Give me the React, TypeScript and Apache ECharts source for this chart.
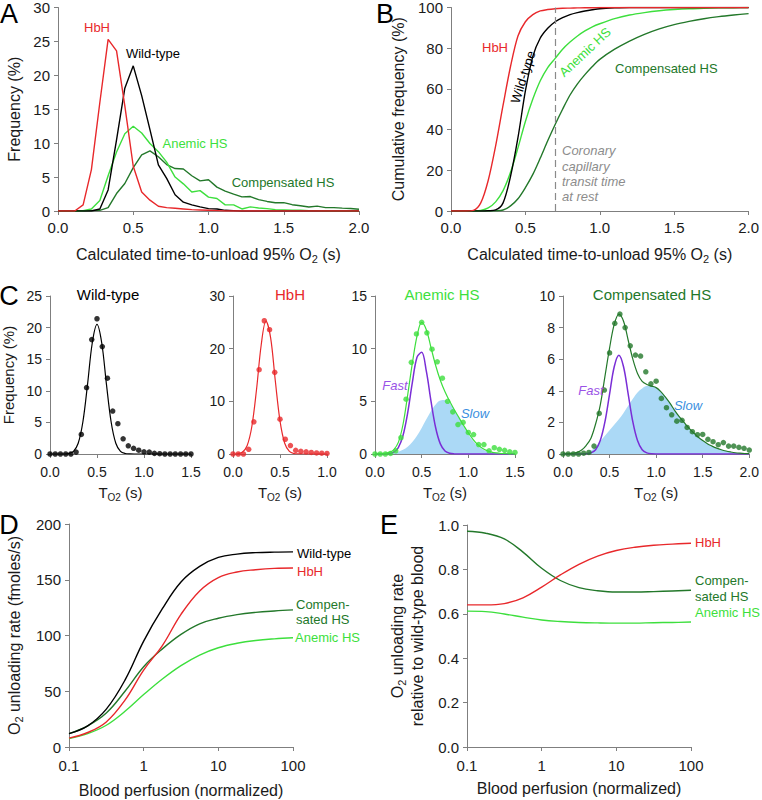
import React, { useEffect, useRef } from "react";
import * as echarts from "echarts";

const FONT = "'Liberation Sans', Arial, Helvetica, sans-serif";
const RED = "#e8282b";
const LGREEN = "#3ddf3d";
const DGREEN = "#23782a";
const BLACK = "#000000";
const PURPLE = "#7a2ed6";
const FAST_TXT = "#9a52e6";
const SLOW_FILL = "#abd9f6";
const SLOW_TXT = "#3a8fe0";
const AXIS = "#7f7f7f";
const TXT = "#1a1a1a";

// Histogram bins (s)
const BIN_X = [0, 0.056, 0.111, 0.167, 0.222, 0.278, 0.333, 0.389, 0.444, 0.5, 0.556, 0.611, 0.667, 0.722, 0.778, 0.833, 0.889, 0.944, 1, 1.056, 1.111, 1.167, 1.222, 1.278, 1.333, 1.389, 1.444, 1.5, 1.556, 1.611, 1.667, 1.722, 1.778, 1.833, 1.889, 1.944, 2];
const HIST_WILD = [0, 0, 0, 0, 0, 0.3, 3.1, 10.5, 18.1, 21.4, 17.0, 12.0, 6.8, 4.8, 2.4, 1.3, 0.9, 0.6, 0.35, 0.3, 0.1, 0.05, 0, 0, 0, 0, 0, 0, 0, 0, 0, 0, 0, 0, 0, 0, 0];
const HIST_HBH = [0, 0, 0, 0.9, 6.1, 16.0, 25.3, 23.6, 15.5, 6.6, 2.8, 1.6, 0.7, 0.5, 0.4, 0.3, 0.2, 0.15, 0.1, 0.05, 0, 0, 0, 0, 0, 0, 0, 0, 0, 0, 0, 0, 0, 0, 0, 0, 0];
const HIST_ANEMIC = [0, 0, 0, 0.05, 0.3, 1.55, 5.2, 8.7, 11.4, 12.5, 11.5, 9.95, 8.75, 7.2, 5.0, 4.0, 2.8, 3.0, 2.05, 1.85, 0.9, 0.9, 0.3, 0.6, 0.45, 0.35, 0.2, 0.15, 0.1, 0.1, 0.05, 0.05, 0, 0, 0, 0, 0];
const HIST_COMP = [0, 0, 0, 0, 0.05, 0.1, 0.5, 2.57, 4.05, 6.4, 8.27, 8.86, 8.0, 6.85, 6.26, 6.2, 5.2, 4.44, 4.61, 3.52, 2.93, 2.48, 2.08, 2.13, 1.68, 1.41, 1.22, 1.24, 0.93, 0.78, 0.59, 0.72, 0.5, 0.5, 0.42, 0.36, 0.25];

// Cumulative frequency (%)
const CUM_X = [0, 0.05, 0.1, 0.15, 0.2, 0.25, 0.3, 0.35, 0.4, 0.45, 0.5, 0.55, 0.6, 0.65, 0.7, 0.75, 0.8, 0.85, 0.9, 0.95, 1.0, 1.1, 1.2, 1.3, 1.4, 1.5, 1.6, 1.7, 1.8, 1.9, 2.0];
const CUM_HBH = [0, 0, 0, 0.3, 4, 15, 32, 52, 71, 86, 93, 96.5, 98.3, 99, 99.4, 99.6, 99.7, 99.8, 99.9, 99.9, 100, 100, 100, 100, 100, 100, 100, 100, 100, 100, 100];
const CUM_WILD = [0, 0, 0, 0, 0, 0.1, 0.5, 4, 17, 36, 59, 76, 85, 89.8, 93, 95, 96.5, 97.5, 98.3, 98.9, 99.4, 99.8, 100, 100, 100, 100, 100, 100, 100, 100, 100];
const CUM_ANEMIC = [0, 0, 0, 0.05, 0.3, 1.5, 4.5, 10, 19, 31, 44, 55, 64, 70.5, 75, 79.5, 83, 86, 88.5, 90.5, 92, 94.5, 96.3, 97.5, 98.4, 99, 99.4, 99.6, 99.8, 99.9, 100];
const CUM_COMP = [0, 0, 0, 0, 0, 0, 0.1, 0.5, 2.5, 6, 11.5, 18, 26, 34.5, 42.5, 50, 57, 62.5, 67, 71, 74.5, 79.5, 83.5, 86.8, 89.5, 91.6, 93.2, 94.5, 95.5, 96.3, 97];
const TRANSIT_TIME = 0.7;

// Fitted curves (panel C)
const FIT_X10 = [0, 0.05, 0.1, 0.15, 0.2, 0.25, 0.3, 0.35, 0.4, 0.45, 0.5, 0.55, 0.6, 0.65, 0.7, 0.75, 0.8, 0.85, 0.9, 0.95, 1.0];
const FIT_X15 = [0, 0.05, 0.1, 0.15, 0.2, 0.25, 0.3, 0.35, 0.4, 0.45, 0.5, 0.55, 0.6, 0.65, 0.7, 0.75, 0.8, 0.85, 0.9, 0.95, 1.0, 1.05, 1.1, 1.15, 1.2, 1.25, 1.3, 1.35, 1.4, 1.45, 1.5];
const FIT_X20 = [0, 0.05, 0.1, 0.15, 0.2, 0.25, 0.3, 0.35, 0.4, 0.45, 0.5, 0.55, 0.6, 0.65, 0.7, 0.75, 0.8, 0.85, 0.9, 0.95, 1.0, 1.05, 1.1, 1.15, 1.2, 1.25, 1.3, 1.35, 1.4, 1.45, 1.5, 1.55, 1.6, 1.65, 1.7, 1.75, 1.8, 1.85, 1.9, 1.95, 2.0];
const FIT_WILD = [0, 0, 0, 0, 0.08, 0.43, 1.7, 5.1, 11.1, 17.6, 20.5, 17.6, 11.1, 5.1, 1.7, 0.43, 0.08, 0.01, 0, 0, 0, 0, 0, 0, 0, 0, 0, 0, 0, 0, 0];
const FIT_HBH = [0, 0.05, 0.35, 1.57, 5.17, 12.2, 20.7, 25.25, 22.1, 13.9, 6.3, 2.05, 0.48, 0.08, 0.01, 0, 0, 0, 0, 0, 0];
const FIT_ANEMIC = [0, 0.01, 0.05, 0.15, 0.4, 1.1, 2.8, 5.6, 8.6, 11.2, 12.5, 11.8, 10.1, 8.4, 7.0, 5.9, 5.0, 4.2, 3.45, 2.7, 2.0, 1.4, 0.9, 0.55, 0.32, 0.18, 0.1, 0.05, 0.03, 0.01, 0];
const FAST_ANEMIC = [0, 0, 0, 0.04, 0.17, 0.61, 1.76, 3.9, 6.77, 9.18, 9.65, 7.86, 5.01, 2.49, 0.96, 0.29, 0.07, 0.01, 0, 0, 0, 0, 0, 0, 0, 0, 0, 0, 0, 0, 0];
const SLOW_ANEMIC = [0, 0.01, 0.02, 0.05, 0.11, 0.21, 0.4, 0.7, 1.14, 1.74, 2.48, 3.29, 4.08, 4.71, 5.09, 5.12, 4.81, 4.22, 3.45, 2.64, 1.88, 1.25, 0.77, 0.45, 0.24, 0.12, 0.06, 0.03, 0.01, 0, 0];
const FIT_COMP = [0, 0.01, 0.04, 0.1, 0.25, 0.55, 1.0, 1.9, 3.1, 4.9, 6.7, 8.2, 8.85, 8.4, 7.2, 6.0, 5.1, 4.6, 4.4, 4.3, 4.2, 3.95, 3.6, 3.2, 2.75, 2.35, 2.0, 1.65, 1.35, 1.08, 0.85, 0.65, 0.5, 0.37, 0.27, 0.19, 0.13, 0.08, 0.05, 0.03, 0.02];
const FAST_COMP = [0, 0, 0, 0, 0, 0.01, 0.07, 0.27, 0.85, 2.03, 3.79, 5.52, 6.25, 5.52, 3.79, 2.03, 0.85, 0.27, 0.07, 0.01, 0, 0, 0, 0, 0, 0, 0, 0, 0, 0, 0, 0, 0, 0, 0, 0, 0, 0, 0, 0, 0];
const SLOW_COMP = [0, 0, 0, 0, 0.01, 0.05, 0.2, 0.45, 0.8, 1.15, 1.5, 1.85, 2.2, 2.6, 3.05, 3.5, 3.9, 4.15, 4.3, 4.3, 4.2, 3.95, 3.6, 3.2, 2.75, 2.35, 2.0, 1.65, 1.35, 1.08, 0.85, 0.65, 0.5, 0.37, 0.27, 0.19, 0.13, 0.08, 0.05, 0.03, 0.02];

// Panels D and E (perfusion, quarter-decade steps)
const PERF_X = [0.1, 0.178, 0.316, 0.562, 1, 1.78, 3.16, 5.62, 10, 17.8, 31.6, 56.2, 100];
const RATE_WILD = [12, 19, 34, 60, 95, 124, 148, 162, 170, 173, 174.3, 174.8, 175];
const RATE_HBH = [8, 13, 22.5, 42, 69, 91, 119, 140, 152, 157, 159, 160.2, 160.5];
const RATE_COMP = [12, 19, 30.5, 50, 72, 88, 101, 110.5, 115.5, 118.7, 120.7, 122, 123];
const RATE_ANEMIC = [7.5, 12, 19.5, 32, 47, 61, 73, 82.5, 89, 93, 95.5, 97, 98];
const REL_HBH = [0.64, 0.64, 0.646, 0.672, 0.72, 0.775, 0.823, 0.86, 0.885, 0.9, 0.909, 0.914, 0.918];
const REL_COMP = [0.972, 0.963, 0.937, 0.878, 0.805, 0.75, 0.718, 0.704, 0.698, 0.698, 0.7, 0.703, 0.706];
const REL_ANEMIC = [0.612, 0.61, 0.599, 0.585, 0.572, 0.565, 0.561, 0.559, 0.558, 0.558, 0.56, 0.561, 0.563];

const pairs = (xs: number[], ys: number[]) => xs.map((x, i) => [x, ys[i]]);
const upTo = (xs: number[], ys: number[], max: number) =>
  xs.map((x, i) => [x, ys[i]]).filter((p) => p[0] <= max + 1e-9);

const rich = (size: number) => ({
  a: { fontSize: size, lineHeight: size + 4, fontFamily: FONT, color: TXT },
  s: { fontSize: Math.round(size * 0.68), lineHeight: Math.round(size * 0.68), verticalAlign: "bottom", fontFamily: FONT, color: TXT },
});

function valueAxis(gridIndex: number, min: number, max: number, interval: number, opts: any = {}) {
  return {
    type: "value",
    gridIndex,
    min,
    max,
    interval,
    axisLine: { show: true, onZero: false, lineStyle: { color: AXIS, width: 1 } },
    axisTick: { show: true, length: 4, lineStyle: { color: AXIS } },
    splitLine: { show: false },
    axisLabel: {
      color: TXT,
      fontFamily: FONT,
      fontSize: opts.fontSize || 15,
      margin: opts.margin ?? 8,
      formatter: opts.formatter,
    },
    name: opts.name,
    nameLocation: "middle",
    nameGap: opts.nameGap,
    nameTextStyle: opts.name ? { fontFamily: FONT, color: TXT, rich: rich(opts.nameSize || 16) } : undefined,
  };
}

function logAxis(gridIndex: number, opts: any = {}) {
  return {
    type: "log",
    logBase: 10,
    gridIndex,
    min: 0.1,
    max: 100,
    axisLine: { show: true, onZero: false, lineStyle: { color: AXIS, width: 1 } },
    axisTick: { show: true, length: 4, lineStyle: { color: AXIS } },
    minorTick: { show: false },
    splitLine: { show: false },
    axisLabel: {
      color: TXT,
      fontFamily: FONT,
      fontSize: 15,
      margin: 11,
      formatter: (v: number) => (v < 1 ? v.toFixed(1) : v.toFixed(0)),
    },
    name: opts.name,
    nameLocation: "middle",
    nameGap: opts.nameGap,
    nameTextStyle: { fontFamily: FONT, color: TXT, rich: rich(16) },
  };
}

const f1 = (v: number) => v.toFixed(1);

function line(xi: number, data: any[], color: string, extra: any = {}) {
  return {
    type: "line",
    xAxisIndex: xi,
    yAxisIndex: xi,
    data,
    showSymbol: false,
    symbol: "none",
    lineStyle: { color, width: 1.4 },
    itemStyle: { color },
    silent: true,
    ...extra,
  };
}

function dots(xi: number, data: any[], color: string) {
  return {
    type: "scatter",
    xAxisIndex: xi,
    yAxisIndex: xi,
    data,
    symbol: "circle",
    symbolSize: 5.5,
    itemStyle: { color },
    silent: true,
    z: 5,
  };
}

function txt(text: string, x: number, y: number, color: string, o: any = {}) {
  return {
    type: "text",
    x,
    y,
    rotation: o.rotation || 0,
    silent: true,
    z: 100,
    style: {
      text,
      x: 0,
      y: 0,
      fill: color,
      font: `${o.italic ? "italic " : ""}${o.size || 13}px ${FONT}`,
      textAlign: o.align || "center",
      textVerticalAlign: "middle",
    },
  };
}

export default function App() {
  const ref = useRef<HTMLDivElement>(null);

  useEffect(() => {
    document.body.style.margin = "0";
    if (!ref.current) return;
    const chart = echarts.init(ref.current, undefined, { renderer: "svg" });

    const xName = "{a|Calculated time-to-unload 95% O}{s|2}{a| (s)}";
    const tName = "{a|T}{s|O2}{a| (s)}";

    const option: any = {
      animation: false,
      grid: [
        { left: 58, top: 7, width: 301, height: 204 },
        { left: 451, top: 7, width: 301, height: 204 },
        { left: 50, top: 296, width: 141, height: 158 },
        { left: 233, top: 296, width: 94, height: 158 },
        { left: 375, top: 296, width: 140, height: 158 },
        { left: 563, top: 296, width: 188, height: 158 },
        { left: 69, top: 524, width: 224, height: 223 },
        { left: 467, top: 525, width: 224, height: 222 },
      ],
      xAxis: [
        valueAxis(0, 0, 2, 0.5, { formatter: f1, margin: 9, name: xName, nameGap: 33 }),
        valueAxis(1, 0, 2, 0.5, { formatter: f1, margin: 9, name: xName, nameGap: 33 }),
        valueAxis(2, 0, 1.5, 0.5, { formatter: f1, margin: 11, fontSize: 14, name: tName, nameGap: 29, nameSize: 15 }),
        valueAxis(3, 0, 1, 0.5, { formatter: f1, margin: 11, fontSize: 14, name: tName, nameGap: 29, nameSize: 15 }),
        valueAxis(4, 0, 1.5, 0.5, { formatter: f1, margin: 11, fontSize: 14, name: tName, nameGap: 29, nameSize: 15 }),
        valueAxis(5, 0, 2, 0.5, { formatter: f1, margin: 11, fontSize: 14, name: tName, nameGap: 29, nameSize: 15 }),
        logAxis(6, { name: "{a|Blood perfusion (normalized)}", nameGap: 33 }),
        logAxis(7, { name: "{a|Blood perfusion (normalized)}", nameGap: 31 }),
      ],
      yAxis: [
        valueAxis(0, 0, 30, 5, { name: "{a|Frequency (%)}", nameGap: 34 }),
        valueAxis(1, 0, 100, 20, { name: "{a|Cumulative frequency (%)}", nameGap: 43 }),
        valueAxis(2, 0, 25, 5, { fontSize: 14, name: "{a|Frequency (%)}", nameGap: 32, nameSize: 15 }),
        valueAxis(3, 0, 30, 10, { fontSize: 14 }),
        valueAxis(4, 0, 15, 5, { fontSize: 14 }),
        valueAxis(5, 0, 10, 2, { fontSize: 14 }),
        valueAxis(6, 0, 200, 50, { name: "{a|O}{s|2}{a| unloading rate (fmoles/s)}", nameGap: 45 }),
        valueAxis(7, 0, 1, 0.2, {
          formatter: f1,
          name: "{a|O}{s|2}{a| unloading rate}\n{a|relative to wild-type blood}",
          nameGap: 40,
        }),
      ],
      series: [
        // Panel A
        line(0, pairs(BIN_X, HIST_COMP), DGREEN),
        line(0, pairs(BIN_X, HIST_ANEMIC), LGREEN),
        line(0, pairs(BIN_X, HIST_WILD), BLACK),
        line(0, pairs(BIN_X, HIST_HBH), RED),
        // Panel B
        line(1, pairs(CUM_X, CUM_COMP), DGREEN, { smooth: 0.3 }),
        line(1, pairs(CUM_X, CUM_ANEMIC), LGREEN, { smooth: 0.3 }),
        line(1, pairs(CUM_X, CUM_WILD), BLACK, {
          smooth: 0.3,
          markLine: {
            silent: true,
            symbol: "none",
            label: { show: false },
            lineStyle: { color: "#8a8a8a", type: [7, 4], width: 1.2 },
            data: [{ xAxis: TRANSIT_TIME }],
          },
        }),
        line(1, pairs(CUM_X, CUM_HBH), RED, { smooth: 0.3 }),
        // Panel C1
        line(2, pairs(FIT_X15, FIT_WILD), BLACK, { smooth: 0.35, lineStyle: { color: BLACK, width: 1.2 } }),
        dots(2, upTo(BIN_X, HIST_WILD, 1.5), BLACK),
        // Panel C2
        line(3, pairs(FIT_X10, FIT_HBH), RED, { smooth: 0.35, lineStyle: { color: RED, width: 1.2 } }),
        dots(3, upTo(BIN_X, HIST_HBH, 1.0), RED),
        // Panel C3
        line(4, pairs(FIT_X15, SLOW_ANEMIC), SLOW_FILL, {
          smooth: 0.35,
          lineStyle: { width: 0, color: SLOW_FILL },
          areaStyle: { color: SLOW_FILL, opacity: 1 },
          z: 1,
        }),
        line(4, pairs(FIT_X15, FAST_ANEMIC), PURPLE, { smooth: 0.35, lineStyle: { color: PURPLE, width: 1.5 } }),
        line(4, pairs(FIT_X15, FIT_ANEMIC), LGREEN, { smooth: 0.35, lineStyle: { color: LGREEN, width: 1.2 } }),
        dots(4, upTo(BIN_X, HIST_ANEMIC, 1.5), LGREEN),
        // Panel C4
        line(5, pairs(FIT_X20, SLOW_COMP), SLOW_FILL, {
          smooth: 0.35,
          lineStyle: { width: 0, color: SLOW_FILL },
          areaStyle: { color: SLOW_FILL, opacity: 1 },
          z: 1,
        }),
        line(5, pairs(FIT_X20, FAST_COMP), PURPLE, { smooth: 0.35, lineStyle: { color: PURPLE, width: 1.5 } }),
        line(5, pairs(FIT_X20, FIT_COMP), DGREEN, { smooth: 0.35, lineStyle: { color: DGREEN, width: 1.2 } }),
        dots(5, upTo(BIN_X, HIST_COMP, 2.0), DGREEN),
        // Panel D
        line(6, pairs(PERF_X, RATE_ANEMIC), LGREEN, { smooth: 0.4 }),
        line(6, pairs(PERF_X, RATE_COMP), DGREEN, { smooth: 0.4 }),
        line(6, pairs(PERF_X, RATE_HBH), RED, { smooth: 0.4 }),
        line(6, pairs(PERF_X, RATE_WILD), BLACK, { smooth: 0.4 }),
        // Panel E
        line(7, pairs(PERF_X, REL_ANEMIC), LGREEN, { smooth: 0.4 }),
        line(7, pairs(PERF_X, REL_COMP), DGREEN, { smooth: 0.4 }),
        line(7, pairs(PERF_X, REL_HBH), RED, { smooth: 0.4 }),
      ],
      graphic: [
        // panel letters
        txt("A", 9, 14, BLACK, { size: 27 }),
        txt("B", 385, 14, BLACK, { size: 27 }),
        txt("C", 9, 296, BLACK, { size: 27 }),
        txt("D", 9, 525, BLACK, { size: 27 }),
        txt("E", 389, 525, BLACK, { size: 27 }),
        // Panel A labels
        txt("HbH", 97, 27, RED),
        txt("Wild-type", 153, 53, BLACK),
        txt("Anemic HS", 195, 143, LGREEN),
        txt("Compensated HS", 283, 182, DGREEN),
        // Panel B labels
        txt("HbH", 495, 47, RED),
        txt("Wild-type", 523, 77, BLACK, { rotation: (72 * Math.PI) / 180 }),
        txt("Anemic HS", 585, 52, LGREEN, { rotation: (43 * Math.PI) / 180 }),
        txt("Compensated HS", 615, 68, DGREEN, { align: "left" }),
        txt("Coronary", 562, 150, "#8c8c8c", { italic: true, align: "left" }),
        txt("capillary", 562, 166, "#8c8c8c", { italic: true, align: "left" }),
        txt("transit time", 562, 181, "#8c8c8c", { italic: true, align: "left" }),
        txt("at rest", 562, 196, "#8c8c8c", { italic: true, align: "left" }),
        // Panel C titles
        txt("Wild-type", 108, 294, BLACK, { size: 15 }),
        txt("HbH", 290, 294, RED, { size: 15 }),
        txt("Anemic HS", 442, 294, LGREEN, { size: 15 }),
        txt("Compensated HS", 652, 294, DGREEN, { size: 15 }),
        txt("Fast", 395, 385, FAST_TXT, { italic: true }),
        txt("Slow", 475, 413, SLOW_TXT, { italic: true }),
        txt("Fast", 591, 390, FAST_TXT, { italic: true }),
        txt("Slow", 688, 405, SLOW_TXT, { italic: true }),
        // Panel D labels
        txt("Wild-type", 297, 553, BLACK, { align: "left" }),
        txt("HbH", 297, 571, RED, { align: "left" }),
        txt("Compen-", 296, 604, DGREEN, { align: "left" }),
        txt("sated HS", 296, 619, DGREEN, { align: "left" }),
        txt("Anemic HS", 295, 637, LGREEN, { align: "left" }),
        // Panel E labels
        txt("HbH", 695, 542, RED, { align: "left" }),
        txt("Compen-", 695, 580, DGREEN, { align: "left" }),
        txt("sated HS", 695, 596, DGREEN, { align: "left" }),
        txt("Anemic HS", 695, 612, LGREEN, { align: "left" }),
      ],
    };

    chart.setOption(option);
    return () => chart.dispose();
  }, []);

  return <div ref={ref} style={{ width: 762, height: 800 }} />;
}
